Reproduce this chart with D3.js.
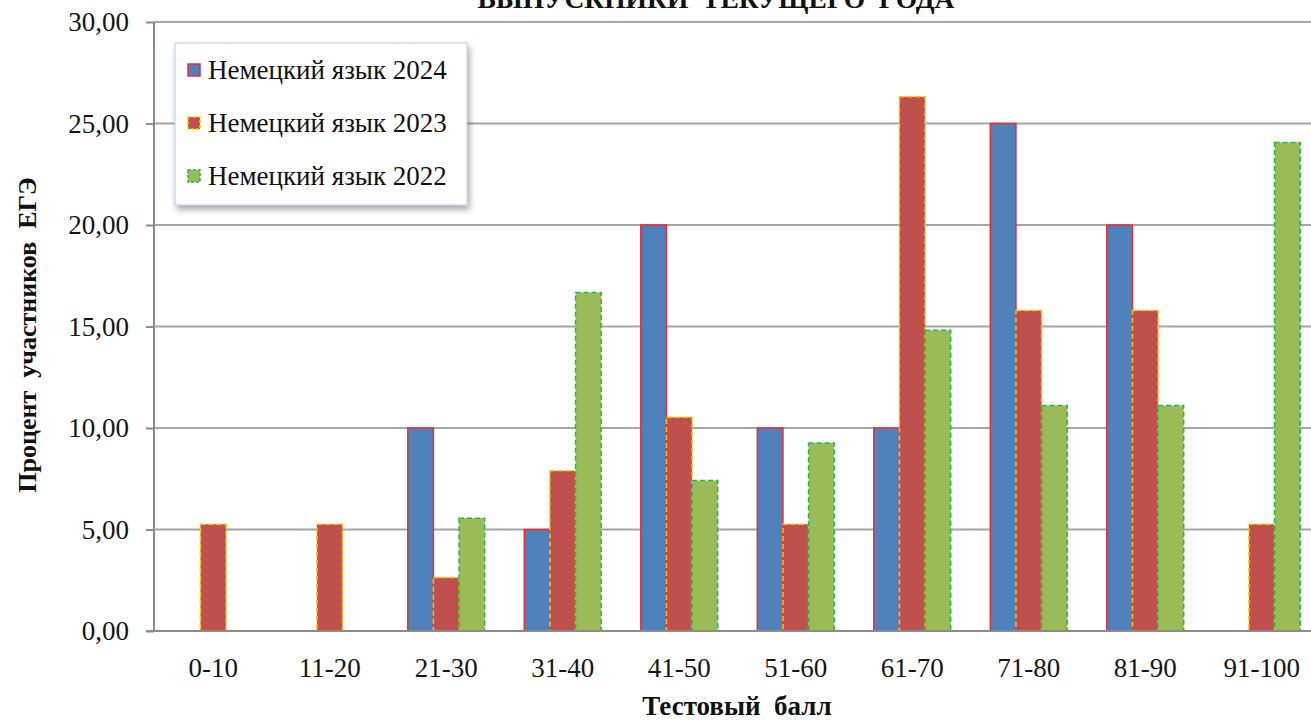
<!DOCTYPE html>
<html>
<head>
<meta charset="utf-8">
<script src="https://cdn.jsdelivr.net/npm/d3@7"></script>
<style>
  body { margin: 0; background: #fff; overflow: hidden; }
  svg text { font-family: "Times New Roman", "Liberation Serif", "DejaVu Serif", serif; }
</style>
</head>
<body>
<script>
// chart data
var categories = ["0-10", "11-20", "21-30", "31-40", "41-50", "51-60", "61-70", "71-80", "81-90", "91-100"];
var seriesNames = ["Немецкий язык 2024", "Немецкий язык 2023", "Немецкий язык 2022"];
var values2024 = [0, 0, 10, 5, 20, 10, 10, 25, 20, 0];
var values2023 = [5.26, 5.26, 2.63, 7.89, 10.53, 5.26, 26.32, 15.79, 15.79, 5.26];
var values2022 = [0, 0, 5.56, 16.67, 7.41, 9.26, 14.81, 11.11, 11.11, 24.07];
var yTicks = [0, 5, 10, 15, 20, 25, 30];

var W = 1311, H = 720;
var left = 154, top_ = 22, bottom = 631;
var serif = "'Times New Roman', 'Liberation Serif', 'DejaVu Serif', serif";

var fills = ["#4f81bd", "#c0504d", "#9bbb59"];
var strokes = ["#ee2a36", "#ffc000", "#1fb84a"];
var dashes = [null, "5,3", "5,3"];
var allValues = [values2024, values2023, values2022];

var svg = d3.select("body").append("svg")
    .attr("width", W)
    .attr("height", H)
    .attr("font-family", serif);

var x = d3.scaleBand()
    .domain(categories)
    .range([155, 155 + 116.5 * categories.length])
    .paddingInner(0.34)
    .paddingOuter(0.17);

var xs = d3.scaleBand()
    .domain(d3.range(seriesNames.length))
    .range([0, x.bandwidth()]);

var y = d3.scaleLinear()
    .domain([0, 30])
    .range([bottom, top_]);

// grid lines
svg.append("g")
    .selectAll("line")
    .data(yTicks.slice(1))
    .join("line")
    .attr("x1", left)
    .attr("x2", W)
    .attr("y1", d => y(d))
    .attr("y2", d => y(d))
    .attr("stroke", "#a6a6a6")
    .attr("stroke-width", 2);

// bars
for (var s = 0; s < allValues.length; s++) {
    svg.append("g")
        .selectAll("rect")
        .data(allValues[s].map((v, i) => ({cat: categories[i], v: v})).filter(d => d.v > 0))
        .join("rect")
        .attr("x", d => x(d.cat) + xs(s))
        .attr("y", d => y(d.v))
        .attr("width", xs.bandwidth())
        .attr("height", d => bottom - y(d.v))
        .attr("fill", fills[s])
        .attr("stroke", strokes[s])
        .attr("stroke-width", 1.5)
        .attr("stroke-dasharray", dashes[s]);
}

// y axis
var yAxis = svg.append("g")
    .attr("transform", "translate(" + left + ",0)")
    .call(d3.axisLeft(y)
        .tickValues(yTicks)
        .tickSize(8)
        .tickPadding(17)
        .tickFormat(d => d3.format(".2f")(d).replace(".", ",")));
yAxis.attr("font-family", serif).attr("font-size", 27);
yAxis.select(".domain").attr("stroke", "#8c8c8c").attr("stroke-width", 2).attr("d", "M0," + (bottom) + "V" + top_);
yAxis.selectAll(".tick line").attr("stroke", "#8c8c8c").attr("stroke-width", 2);
yAxis.selectAll(".tick text").attr("fill", "#151515");

// x axis
var xAxis = svg.append("g")
    .attr("transform", "translate(0," + bottom + ")")
    .call(d3.axisBottom(x).tickSize(0).tickPadding(27));
xAxis.attr("font-family", serif).attr("font-size", 27);
xAxis.select(".domain").attr("stroke", "#8c8c8c").attr("stroke-width", 2).attr("d", "M" + (left - 8) + ",0H" + W);
xAxis.selectAll(".tick text").attr("fill", "#151515");

// titles
svg.append("text")
    .attr("x", 716)
    .attr("y", 8)
    .attr("text-anchor", "middle")
    .attr("font-weight", "bold")
    .attr("font-size", 27.5)
    .attr("fill", "#111")
    .style("white-space", "pre")
    .text("ВЫПУСКНИКИ  ТЕКУЩЕГО  ГОДА");

svg.append("text")
    .attr("x", 737)
    .attr("y", 715)
    .attr("text-anchor", "middle")
    .attr("font-weight", "bold")
    .attr("font-size", 27)
    .attr("fill", "#111")
    .style("white-space", "pre")
    .text("Тестовый  балл");

svg.append("text")
    .attr("transform", "translate(36,335) rotate(-90)")
    .attr("text-anchor", "middle")
    .attr("font-weight", "bold")
    .attr("font-size", 26)
    .attr("fill", "#111")
    .style("white-space", "pre")
    .text("Процент  участников  ЕГЭ");

// legend
var defs = svg.append("defs");
var flt = defs.append("filter").attr("id", "shadow").attr("x", "-10%").attr("y", "-10%").attr("width", "130%").attr("height", "140%");
flt.append("feDropShadow").attr("dx", 2).attr("dy", 4).attr("stdDeviation", 3).attr("flood-color", "#000").attr("flood-opacity", 0.35);

var legend = svg.append("g").attr("transform", "translate(175,43)");
legend.append("rect")
    .attr("width", 292)
    .attr("height", 162)
    .attr("fill", "#fff")
    .attr("stroke", "#b9cde5")
    .attr("stroke-width", 1)
    .attr("filter", "url(#shadow)");

var items = legend.selectAll("g.item")
    .data(seriesNames)
    .join("g")
    .attr("class", "item")
    .attr("transform", (d, i) => "translate(13," + (27 + i * 53) + ")");
items.append("rect")
    .attr("x", 0)
    .attr("y", -6)
    .attr("width", 12)
    .attr("height", 12)
    .attr("fill", (d, i) => fills[i])
    .attr("stroke", (d, i) => strokes[i])
    .attr("stroke-width", 1.5)
    .attr("stroke-dasharray", (d, i) => dashes[i] ? "3,2" : null);
items.append("text")
    .attr("x", 20)
    .attr("y", 9)
    .attr("font-size", 27)
    .attr("fill", "#111")
    .text(d => d);
</script>
</body>
</html>
